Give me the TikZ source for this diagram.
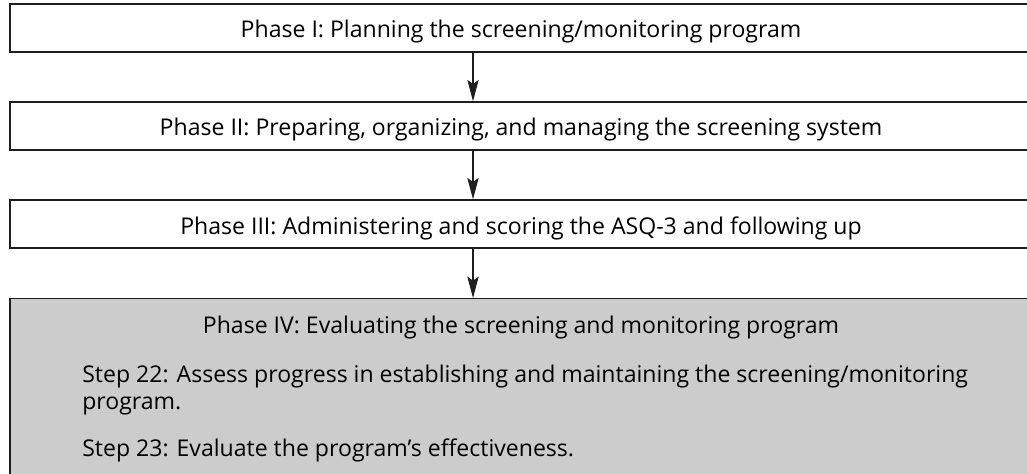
\documentclass[tikz,border=0pt]{standalone}
\usepackage{fontspec}
\setmainfont{Open Sans}
\usetikzlibrary{arrows.meta}
\definecolor{evalgray}{RGB}{204,204,204}
\definecolor{edgecol}{RGB}{30,30,30}
\tikzset{
  flow/.style={-{Stealth[length=16pt,width=8.5pt,inset=3pt]},line width=0.8pt,edgecol},
  phasebox/.style={draw=edgecol,line width=1.1pt,minimum width=766.5pt,minimum height=36pt,
    inner sep=0pt,text height=15pt,text depth=0pt,font=\fontsize{17.3}{20}\selectfont},
  evalbox/.style={phasebox,fill=evalgray,minimum height=150pt,anchor=north},
  boxtext/.style={inner sep=0pt,font=\fontsize{17.3}{20}\selectfont}
}

\begin{document}
\begin{tikzpicture}[x=0.75pt,y=-0.75pt]
  \useasboundingbox (0,0) rectangle (1027,474);

  % the four phases, top to bottom
  \node[phasebox] (p1) at (521,28) {Phase I: Planning the screening/monitoring program};
  \node[phasebox] (p2) at (521,126) {Phase II: Preparing, organizing, and managing the screening system};
  \node[phasebox] (p3) at (521,224) {Phase III: Administering and scoring the ASQ-3 and following up};
  \node[evalbox] (p4) at (521,298) {};

  % phase IV contents
  \node[boxtext,anchor=base] (p4title) at (521,333) {Phase IV: Evaluating the screening and monitoring program};
  \node[boxtext,anchor=base west] (step22) at (82,382)
    {Step 22: Assess progress in establishing and maintaining the screening/monitoring};
  \node[boxtext,anchor=base west] (step22b) at (82,409) {program.};
  \node[boxtext,anchor=base west] (step23) at (82,456) {Step 23: Evaluate the program’s effectiveness.};

  % arrows between phases
  \draw[flow] ([xshift=-36pt]p1.south) -- ([xshift=-36pt]p2.north);
  \draw[flow] ([xshift=-36pt]p2.south) -- ([xshift=-36pt]p3.north);
  \draw[flow] ([xshift=-36pt]p3.south) -- ([xshift=-36pt]p4.north);
\end{tikzpicture}
\end{document}
